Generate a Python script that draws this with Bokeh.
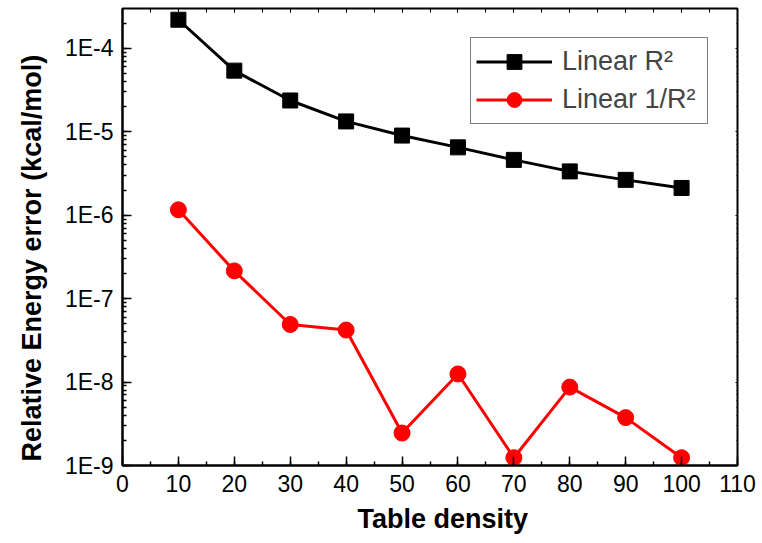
from bokeh.plotting import figure
from bokeh.models import (LinearAxis, LogAxis, SingleIntervalTicker, LogTicker,
                          CustomJSTickFormatter, Legend, Title)
from bokeh.embed import file_html
from bokeh.resources import INLINE

density = [10, 20, 30, 40, 50, 60, 70, 80, 90, 100]
linear_r2 = [2.2e-4, 5.4e-5, 2.37e-5, 1.33e-5, 9.0e-6, 6.5e-6, 4.6e-6, 3.35e-6, 2.65e-6, 2.12e-6]
linear_inv_r2 = [1.16e-6, 2.15e-7, 4.9e-8, 4.2e-8, 2.45e-9, 1.25e-8, 1.24e-9, 8.7e-9, 3.75e-9, 1.24e-9]

x_ticks_interval = 10
FONT = "Liberation Sans"

p = figure(width=762, height=543, y_axis_type="log",
           x_range=(0, 110), y_range=(1e-9, 3e-4),
           output_backend="svg", toolbar_location=None,
           min_border_left=122, min_border_right=25,
           min_border_top=8, min_border_bottom=78)

p.xgrid.visible = False
p.ygrid.visible = False
p.outline_line_color = "black"
p.outline_line_width = 2
p.background_fill_color = "white"
p.border_fill_color = "white"

xticker = SingleIntervalTicker(interval=x_ticks_interval, num_minor_ticks=2)
yticker = LogTicker(num_minor_ticks=10, mantissas=[1])
yfmt = CustomJSTickFormatter(code="return '1E' + Math.round(Math.log10(tick));")
blank = CustomJSTickFormatter(code="return '';")

xa = p.xaxis[0]
xa.ticker = xticker
ya = p.yaxis[0]
ya.ticker = yticker
ya.formatter = yfmt

for ax in (xa, ya):
    ax.axis_line_width = 2
    ax.axis_line_color = "black"
    ax.major_tick_in = 9
    ax.major_tick_out = 0
    ax.minor_tick_in = 4
    ax.minor_tick_out = 0
    ax.major_tick_line_width = 1.5
    ax.minor_tick_line_width = 1.5
    ax.major_label_text_font = FONT
    ax.major_label_text_font_size = "23px"
    ax.major_label_text_color = "black"
    ax.major_label_standoff = 9

top = LinearAxis(ticker=xticker, formatter=blank,
                 major_tick_in=4, major_tick_out=0, minor_tick_in=4, minor_tick_out=0,
                 axis_line_color=None, major_label_standoff=0)
right = LogAxis(ticker=yticker, formatter=blank,
                major_tick_in=2, major_tick_out=0, minor_tick_in=1, minor_tick_out=0,
                axis_line_color=None, major_label_standoff=0)
p.add_layout(top, "above")
p.add_layout(right, "right")

ytitle = Title(text="Relative Energy error (kcal/mol)", align="left", offset=4,
               vertical_align="middle",
               text_font=FONT, text_font_style="bold", text_font_size="27px",
               text_color="black", standoff=28)
xtitle = Title(text="Table density", align="left", offset=235,
               vertical_align="middle",
               text_font=FONT, text_font_style="bold", text_font_size="27px",
               text_color="black", standoff=17)
p.add_layout(ytitle, "left")
p.add_layout(xtitle, "below")

l1 = p.line(density, linear_r2, line_color="black", line_width=3)
s1 = p.scatter(density, linear_r2, marker="square", size=15, fill_color="black", line_color="black")
l2 = p.line(density, linear_inv_r2, line_color="#ff0000", line_width=3)
s2 = p.scatter(density, linear_inv_r2, marker="circle", size=16, fill_color="#ff0000", line_color="#ff0000")

legend = Legend(items=[("Linear R\u00b2", [l1, s1]), ("Linear 1/R\u00b2", [l2, s2])],
                location="top_right", margin=29,
                label_text_font=FONT, label_text_font_size="27px",
                border_line_color="black", border_line_width=1,
                glyph_width=76, glyph_height=37, spacing=1, padding=5,
                label_standoff=10, label_width=140, background_fill_alpha=1)
p.add_layout(legend, "center")

open("out.html", "w").write(file_html(p, INLINE))
